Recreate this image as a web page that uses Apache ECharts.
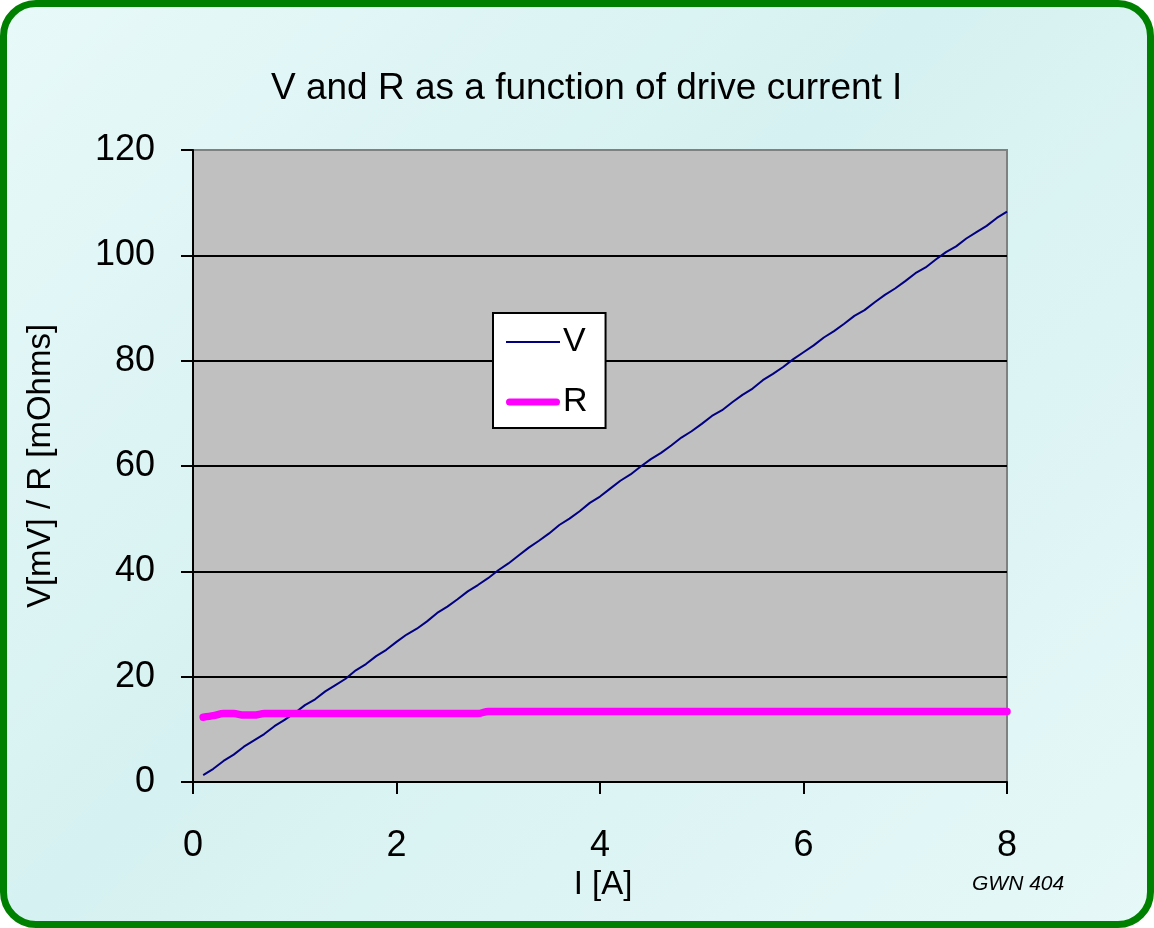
<!DOCTYPE html>
<html>
<head>
<meta charset="utf-8">
<script src="https://cdn.jsdelivr.net/npm/echarts@6/dist/echarts.min.js"></script>
<style>
  html, body { margin: 0; padding: 0; background: #ffffff; }
  #frame {
    position: absolute; left: 0; top: 0; width: 1154px; height: 928px;
    box-sizing: border-box; border: 7px solid #008000; border-radius: 36px;
    background: linear-gradient(135deg, #e8f9f9 0%, #d6f1f1 45%, #e6f8f8 100%);
    overflow: hidden;
  }
  #chart { position: absolute; left: -7px; top: -7px; width: 1154px; height: 928px; }
</style>
</head>
<body>
<div id="frame"><div id="chart"></div></div>
<script>
const currents = [0.1,0.2,0.3,0.4,0.5,0.6,0.7,0.8,0.9,1.0,
  1.1,1.2,1.3,1.4,1.5,1.6,1.7,1.8,1.9,2.0,
  2.1,2.2,2.3,2.4,2.5,2.6,2.7,2.8,2.9,3.0,
  3.1,3.2,3.3,3.4,3.5,3.6,3.7,3.8,3.9,4.0,
  4.1,4.2,4.3,4.4,4.5,4.6,4.7,4.8,4.9,5.0,
  5.1,5.2,5.3,5.4,5.5,5.6,5.7,5.8,5.9,6.0,
  6.1,6.2,6.3,6.4,6.5,6.6,6.7,6.8,6.9,7.0,
  7.1,7.2,7.3,7.4,7.5,7.6,7.7,7.8,7.9,8.0];
const voltages = [1.3,2.5,4.0,5.2,6.7,7.9,9.1,10.6,11.8,13.1,
  14.6,15.7,17.2,18.4,19.6,21.2,22.4,23.9,25.1,26.6,
  28.0,29.1,30.5,32.1,33.3,34.7,36.2,37.4,38.7,40.2,
  41.5,43.0,44.5,45.8,47.2,48.8,50.0,51.4,53.0,54.2,
  55.7,57.2,58.4,59.9,61.3,62.5,63.9,65.4,66.6,68.0,
  69.5,70.6,72.1,73.5,74.7,76.3,77.5,78.8,80.3,81.6,
  82.9,84.4,85.6,87.0,88.5,89.6,91.1,92.5,93.7,95.1,
  96.6,97.7,99.2,100.6,101.7,103.2,104.4,105.6,107.1,108.3];
const resistances = [12.3,12.6,13.0,13.0,12.7,12.7,13.0,13.0,13.0,13.0,
  13.0,13.0,13.0,13.0,13.0,13.0,13.0,13.0,13.0,13.0,
  13.0,13.0,13.0,13.0,13.0,13.0,13.0,13.0,13.4,13.4,
  13.4,13.4,13.4,13.4,13.4,13.4,13.4,13.4,13.4,13.4,
  13.4,13.4,13.4,13.4,13.4,13.4,13.4,13.4,13.4,13.4,
  13.4,13.4,13.4,13.4,13.4,13.4,13.4,13.4,13.4,13.4,
  13.4,13.4,13.4,13.4,13.4,13.4,13.4,13.4,13.4,13.4,
  13.4,13.4,13.4,13.4,13.4,13.4,13.4,13.4,13.4,13.4];
const xTicks = [0, 2, 4, 6, 8];
const yTicks = [0, 20, 40, 60, 80, 100, 120];
const seriesNames = ['V', 'R'];
const titleText = 'V and R as a function of drive current I';
const xName = 'I [A]';
const yName = 'V[mV] / R [mOhms]';
const noteText = 'GWN 404';

const FONT = '"Liberation Sans", Arial, sans-serif';
const chart = echarts.init(document.getElementById('chart'), null, { renderer: 'canvas' });

const vData = currents.map((c, i) => [c, voltages[i]]);
const rData = currents.map((c, i) => [c, resistances[i]]);

chart.setOption({
  backgroundColor: 'transparent',
  animation: false,
  graphic: [
    { type: 'text', left: 271, top: 70, style: { text: titleText, font: '37px ' + FONT, fill: '#000' } },
    { type: 'text', left: 972, top: 874, style: { text: noteText, font: 'italic 21px ' + FONT, fill: '#000' } }
  ],
  grid: {
    left: 193, top: 150, right: 147, bottom: 146,
    show: true, backgroundColor: '#c0c0c0', borderColor: '#808080', borderWidth: 2
  },
  legend: {
    orient: 'vertical', left: 493, top: 313,
    width: 113,
    data: [
      { name: seriesNames[0], icon: 'path://M0,0L54,0L54,2L0,2Z' },
      { name: seriesNames[1], icon: 'path://M3.5,0L50.5,0A3.5,3.5,0,0,1,50.5,7L3.5,7A3.5,3.5,0,0,1,3.5,0Z' }
    ],
    symbolKeepAspect: true,
    backgroundColor: '#ffffff', borderColor: '#000000', borderWidth: 2,
    padding: [9, 18, 6, 13],
    itemGap: 20, itemWidth: 54, itemHeight: 14,
    textStyle: { fontSize: 34, fontFamily: FONT, color: '#000', lineHeight: 40, padding: [0, 0, 0, -2] }
  },
  xAxis: {
    type: 'value', min: xTicks[0], max: xTicks[xTicks.length - 1], interval: 2,
    name: xName, nameLocation: 'middle', nameGap: 84,
    nameTextStyle: { fontSize: 33, fontFamily: FONT, color: '#000', padding: [0, 0, 0, 6] },
    axisLine: { show: true, onZero: false, lineStyle: { color: '#000', width: 2 } },
    axisTick: { show: true, length: 12, lineStyle: { color: '#000', width: 2 } },
    axisLabel: { fontSize: 36, fontFamily: FONT, color: '#000', margin: 46 },
    splitLine: { show: false }
  },
  yAxis: {
    type: 'value', min: yTicks[0], max: yTicks[yTicks.length - 1], interval: 20,
    name: yName, nameLocation: 'middle', nameGap: 136,
    nameTextStyle: { fontSize: 33, fontFamily: FONT, color: '#000' },
    axisLine: { show: true, onZero: false, lineStyle: { color: '#000', width: 2 } },
    axisTick: { show: true, length: 12, lineStyle: { color: '#000', width: 2 } },
    axisLabel: { fontSize: 36, fontFamily: FONT, color: '#000', margin: 38 },
    splitLine: { show: true, lineStyle: { color: ['#000','#000','#000','#000','#000','#000','#808080'], width: 2 } }
  },
  series: [
    {
      name: seriesNames[0], type: 'line', data: vData, showSymbol: false, symbol: 'none',
      lineStyle: { color: '#000080', width: 2 }, itemStyle: { color: '#000080' }
    },
    {
      name: seriesNames[1], type: 'line', data: rData, showSymbol: false, symbol: 'none', smooth: 0.3,
      lineStyle: { color: '#ff00ff', width: 7.5, cap: 'round', join: 'round' }, itemStyle: { color: '#ff00ff' }
    }
  ]
});
</script>
</body>
</html>
